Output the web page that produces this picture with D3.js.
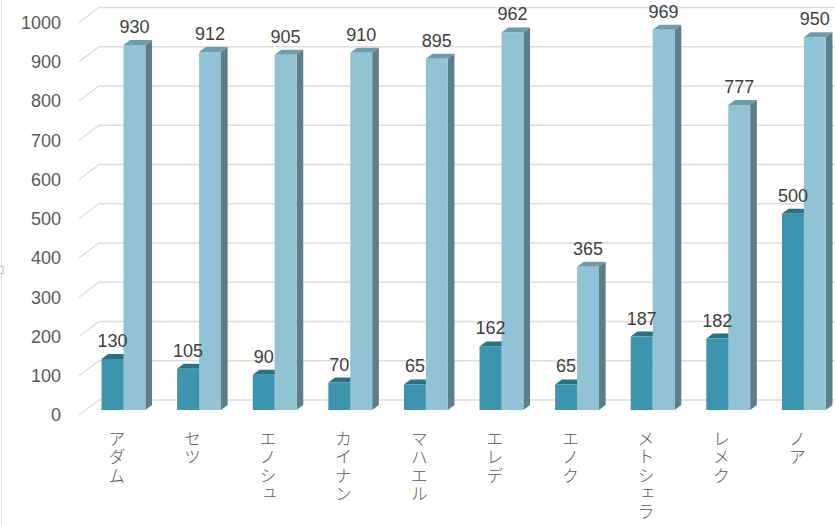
<!DOCTYPE html>
<html>
<head>
<meta charset="utf-8">
<script src="https://cdn.jsdelivr.net/npm/d3@7"></script>
<style>
body { margin: 0; background: #fff; }
</style>
</head>
<body>
<div id="chart"></div>
<script>
var categories = ["アダム", "セツ", "エノシュ", "カイナン", "マハエル", "エレデ", "エノク", "メトシェラ", "レメク", "ノア"];
var seriesA = [130, 105, 90, 70, 65, 162, 65, 187, 182, 500];
var seriesB = [930, 912, 905, 910, 895, 962, 365, 969, 777, 950];
var yTicks = [0, 100, 200, 300, 400, 500, 600, 700, 800, 900, 1000];

var width = 835, height = 525;
// wall depth of the 3d box, bars sit in its middle third
var depthX = 20, depthY = -15;
var bdx = depthX / 3, bdy = depthY / 3;

var faceColors = {
    a: { front: "#3d94ae", top: "#2b7083", side: "#2b6a7b" },
    b: { front: "#92c3d5", top: "#6e9cab", side: "#5d7d89" }
};

var svg = d3.select("#chart").append("svg")
    .attr("width", width)
    .attr("height", height)
    .style("display", "block");

svg.append("rect").attr("width", width).attr("height", height).attr("fill", "#fff");

// left frame edge + handle
svg.append("line")
    .attr("x1", 1.5).attr("x2", 1.5).attr("y1", 0).attr("y2", height)
    .attr("stroke", "#d9d9d9").attr("stroke-width", 1);
svg.append("rect")
    .attr("x", -1).attr("y", 266.5).attr("width", 4).attr("height", 7)
    .attr("fill", "#fff").attr("stroke", "#bfbfbf").attr("stroke-width", 1);

var x0 = d3.scaleBand()
    .domain(categories)
    .range([79, 835])
    .paddingInner(0.42)
    .paddingOuter(0.21);

var x1 = d3.scaleBand()
    .domain(["a", "b"])
    .range([0, x0.bandwidth()]);

var y = d3.scaleLinear()
    .domain([0, 1000])
    .range([415, 22.5]);

// gridlines on side wall and back wall
svg.append("g").selectAll("path")
    .data(yTicks)
    .enter()
    .append("path")
    .attr("d", function (v) {
        var yf = y(v);
        return "M79," + yf + "L" + (79 + depthX) + "," + (yf + depthY) + "L" + width + "," + (yf + depthY);
    })
    .attr("fill", "none")
    .attr("stroke", "#dcdcdc")
    .attr("stroke-width", 1.3);

// y axis labels
var yAxis = d3.axisLeft(y).tickValues(yTicks).tickFormat(d3.format("d")).tickSize(0).tickPadding(0);
var ga = svg.append("g").attr("transform", "translate(61,0)").call(yAxis);
ga.select(".domain").remove();
ga.selectAll("text")
    .attr("fill", "#595959")
    .style("font-family", "'Liberation Sans', Arial, sans-serif")
    .style("font-size", "18px");

// bars
var rows = categories.map(function (c, i) {
    return { cat: c, a: seriesA[i], b: seriesB[i] };
});

function drawBar(g, cat, key, v) {
    var w = x1.bandwidth();
    var x = x0(cat) + x1(key) + bdx;
    var bottom = y(0) + bdy;
    var top = y(v) + bdy;
    var col = faceColors[key];

    g.append("polygon")
        .attr("points", [[x + w, top], [x + w + bdx, top + bdy], [x + w + bdx, bottom + bdy], [x + w, bottom]].join(" "))
        .attr("fill", col.side);
    g.append("polygon")
        .attr("points", [[x, top], [x + bdx, top + bdy], [x + w + bdx, top + bdy], [x + w, top]].join(" "))
        .attr("fill", col.top);
    g.append("rect")
        .attr("x", x)
        .attr("y", top)
        .attr("width", w)
        .attr("height", bottom - top)
        .attr("fill", col.front);
}

var barLayer = svg.append("g");
rows.forEach(function (d) {
    drawBar(barLayer, d.cat, "a", d.a);
    drawBar(barLayer, d.cat, "b", d.b);
});

// value labels
var labelLayer = svg.append("g")
    .style("font-family", "'Liberation Sans', Arial, sans-serif")
    .style("font-size", "18px")
    .attr("fill", "#404040")
    .attr("text-anchor", "middle");

rows.forEach(function (d) {
    ["a", "b"].forEach(function (key) {
        labelLayer.append("text")
            .attr("x", x0(d.cat) + x1(key) + bdx + x1.bandwidth() / 2)
            .attr("y", y(d[key]) + 2 * bdy - 7)
            .text(d[key]);
    });
});

// category labels, written top to bottom
svg.append("g")
    .selectAll("text")
    .data(categories)
    .enter()
    .append("text")
    .attr("x", function (c) { return x0(c) + x0.bandwidth() / 2; })
    .attr("y", 430)
    .style("writing-mode", "vertical-rl")
    .style("text-orientation", "upright")
    .style("font-family", "'Noto Sans CJK JP', sans-serif")
    .style("font-size", "17px")
    .style("font-weight", "300")
    .style("letter-spacing", "1.3px")
    .attr("fill", "#5a5a5a")
    .attr("text-anchor", "start")
    .text(function (c) { return c; });
</script>
</body>
</html>
